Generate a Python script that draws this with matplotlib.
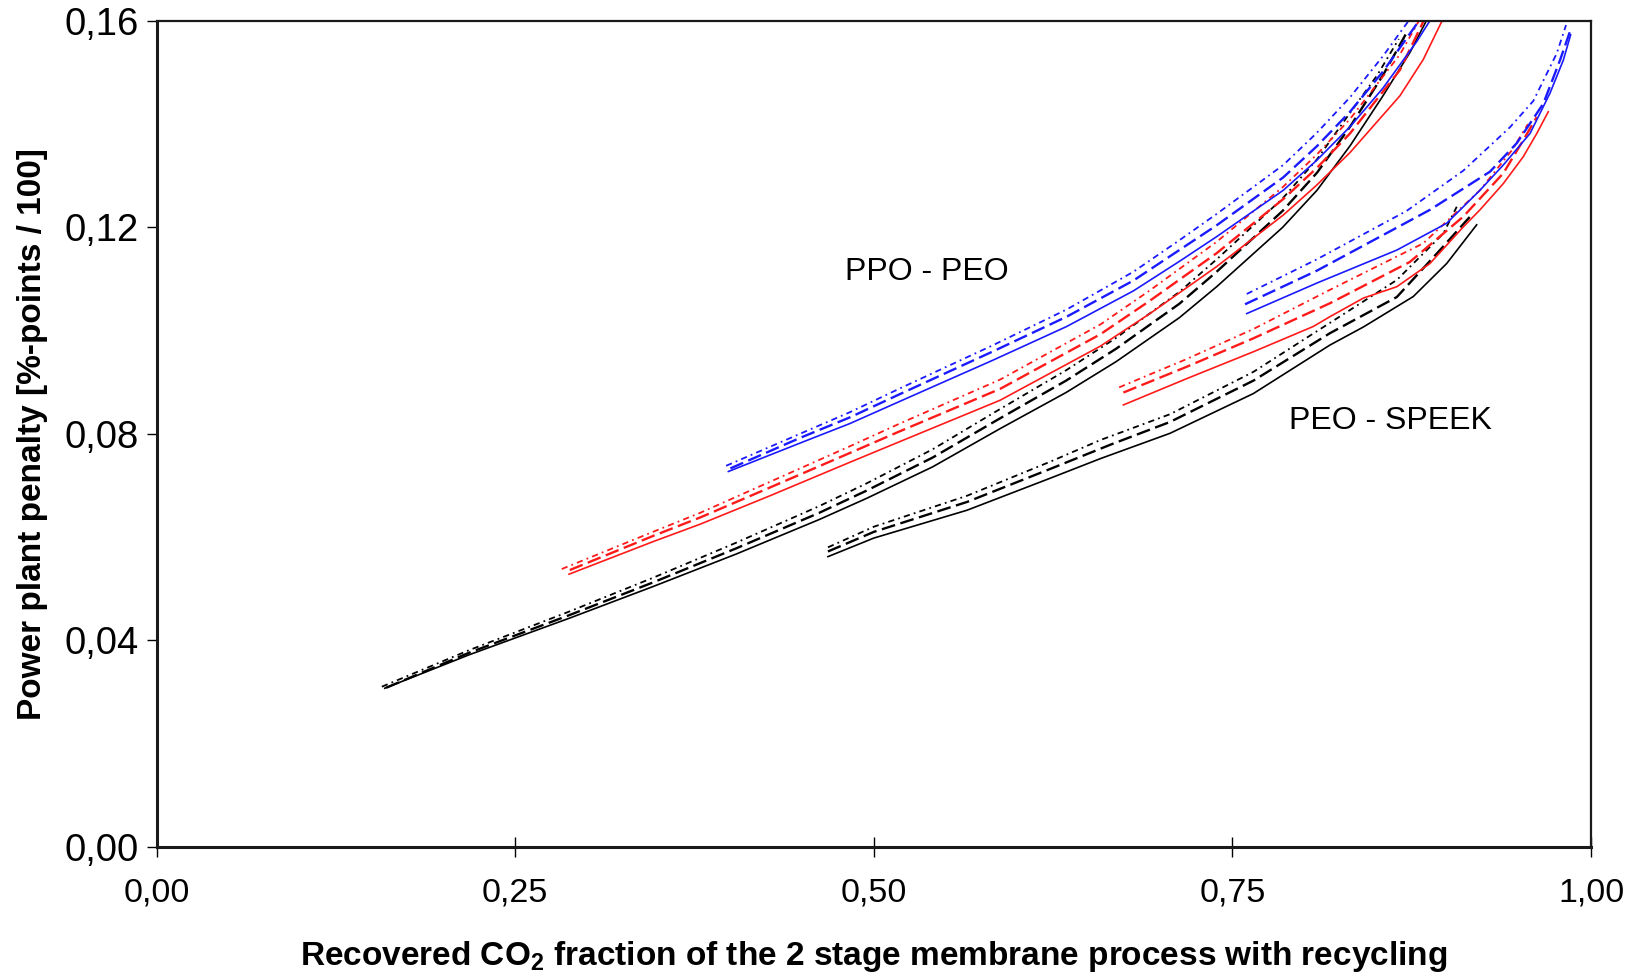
import matplotlib
matplotlib.use("Agg")
import matplotlib.pyplot as plt
from matplotlib import font_manager

# ---------------- data ----------------
x_ticks = [0.0, 0.25, 0.5, 0.75, 1.0]
x_tick_labels = ["0,00", "0,25", "0,50", "0,75", "1,00"]
y_ticks = [0.0, 0.04, 0.08, 0.12, 0.16]
y_tick_labels = ["0,00", "0,04", "0,08", "0,12", "0,16"]

x_label = "Recovered CO$_2$ fraction of the 2 stage membrane process with recycling"
y_label = "Power plant penalty [%-points / 100]"
label_ppo = "PPO - PEO"
label_speek = "PEO - SPEEK"

# PPO - PEO family
ppo_k_solid_x = [0.159, 0.218, 0.288, 0.346, 0.404, 0.462, 0.495, 0.541, 0.588, 0.634, 0.669, 0.713, 0.739, 0.785, 0.809, 0.832, 0.855, 0.874, 0.887]
ppo_k_solid_y = [0.0307, 0.0372, 0.0443, 0.0504, 0.0567, 0.0634, 0.0675, 0.0736, 0.0810, 0.0880, 0.0940, 0.1025, 0.1085, 0.1200, 0.1272, 0.1358, 0.1455, 0.1540, 0.1610]
ppo_k_dash_x = [0.160, 0.218, 0.288, 0.346, 0.404, 0.462, 0.495, 0.541, 0.588, 0.634, 0.669, 0.713, 0.739, 0.785, 0.809, 0.832, 0.855, 0.872]
ppo_k_dash_y = [0.0308, 0.0376, 0.0449, 0.0512, 0.0578, 0.0647, 0.0690, 0.0754, 0.0830, 0.0903, 0.0965, 0.1052, 0.1114, 0.1232, 0.1306, 0.1395, 0.1495, 0.1580]
ppo_k_dd_x = [0.157, 0.218, 0.288, 0.346, 0.404, 0.462, 0.495, 0.541, 0.588, 0.634, 0.669, 0.713, 0.739, 0.785, 0.809, 0.832, 0.851, 0.866]
ppo_k_dd_y = [0.0310, 0.0381, 0.0456, 0.0521, 0.0589, 0.0660, 0.0704, 0.0770, 0.0848, 0.0923, 0.0986, 0.1075, 0.1138, 0.1256, 0.1332, 0.1422, 0.1495, 0.1565]

ppo_r_solid_x = [0.2875, 0.346, 0.379, 0.4276, 0.4834, 0.5182, 0.588, 0.658, 0.6925, 0.739, 0.7855, 0.8088, 0.832, 0.8668, 0.883, 0.897]
ppo_r_solid_y = [0.0528, 0.0591, 0.0625, 0.0680, 0.0745, 0.0785, 0.0865, 0.0970, 0.1033, 0.1124, 0.1224, 0.1282, 0.1345, 0.1455, 0.1525, 0.1605]
ppo_r_dash_x = [0.288, 0.346, 0.379, 0.4276, 0.4834, 0.5182, 0.588, 0.658, 0.6925, 0.739, 0.7855, 0.8088, 0.832, 0.8668, 0.885]
ppo_r_dash_y = [0.0536, 0.0602, 0.0638, 0.0696, 0.0763, 0.0805, 0.0887, 0.0993, 0.1058, 0.1150, 0.1255, 0.1315, 0.1382, 0.1505, 0.1610]
ppo_r_dd_x = [0.2824, 0.346, 0.379, 0.4276, 0.4834, 0.5182, 0.588, 0.658, 0.6925, 0.739, 0.7855, 0.8088, 0.832, 0.8668, 0.882]
ppo_r_dd_y = [0.0538, 0.0610, 0.0647, 0.0707, 0.0776, 0.0820, 0.0905, 0.1012, 0.1078, 0.1172, 0.1279, 0.1341, 0.1410, 0.1535, 0.1610]

ppo_b_solid_x = [0.3986, 0.4485, 0.4834, 0.5182, 0.5833, 0.6345, 0.681, 0.7135, 0.739, 0.7855, 0.8088, 0.832, 0.855, 0.8785, 0.891]
ppo_b_solid_y = [0.0727, 0.0782, 0.0820, 0.0863, 0.0943, 0.1008, 0.1077, 0.1135, 0.1182, 0.1272, 0.1330, 0.1395, 0.1470, 0.1560, 0.1615]
ppo_b_dash_x = [0.400, 0.4485, 0.4834, 0.5182, 0.5833, 0.6345, 0.681, 0.7135, 0.739, 0.7855, 0.8088, 0.832, 0.855, 0.8785, 0.889]
ppo_b_dash_y = [0.0733, 0.0792, 0.0832, 0.0877, 0.0960, 0.1027, 0.1097, 0.1157, 0.1204, 0.1297, 0.1357, 0.1424, 0.1502, 0.1594, 0.1640]
ppo_b_dd_x = [0.397, 0.4485, 0.4834, 0.5182, 0.5833, 0.6345, 0.681, 0.7135, 0.739, 0.7855, 0.8088, 0.832, 0.855, 0.878]
ppo_b_dd_y = [0.0738, 0.0800, 0.0842, 0.0888, 0.0972, 0.1041, 0.1114, 0.1176, 0.1226, 0.1321, 0.1383, 0.1452, 0.1532, 0.1620]

# PEO - SPEEK family
sp_k_solid_x = [0.468, 0.500, 0.565, 0.623, 0.658, 0.7065, 0.7646, 0.818, 0.8413, 0.8761, 0.8994, 0.9203]
sp_k_solid_y = [0.0562, 0.0598, 0.0652, 0.0714, 0.0752, 0.0801, 0.0878, 0.0972, 0.1007, 0.1066, 0.1130, 0.1205]
sp_k_dash_x = [0.468, 0.500, 0.565, 0.623, 0.665, 0.7065, 0.7646, 0.818, 0.8646, 0.8947, 0.9157]
sp_k_dash_y = [0.0572, 0.0610, 0.0668, 0.0732, 0.0779, 0.0823, 0.0903, 0.0995, 0.1065, 0.1156, 0.1221]
sp_k_dd_x = [0.468, 0.500, 0.565, 0.623, 0.658, 0.7065, 0.7646, 0.818, 0.8646, 0.897, 0.9064]
sp_k_dd_y = [0.0580, 0.0620, 0.0680, 0.0746, 0.0788, 0.0838, 0.0920, 0.1015, 0.1098, 0.1188, 0.1240]

sp_r_solid_x = [0.674, 0.7182, 0.7646, 0.8064, 0.818, 0.8413, 0.8646, 0.8877, 0.911, 0.9226, 0.9389, 0.9528, 0.9622, 0.9702]
sp_r_solid_y = [0.0856, 0.0907, 0.0959, 0.1008, 0.1027, 0.1063, 0.1085, 0.1130, 0.1201, 0.1234, 0.1285, 0.1337, 0.1382, 0.1424]
sp_r_dash_x = [0.674, 0.7182, 0.7646, 0.818, 0.8737, 0.911, 0.9389, 0.9528, 0.9622]
sp_r_dash_y = [0.0880, 0.0930, 0.0985, 0.1053, 0.1133, 0.1221, 0.1305, 0.1369, 0.1414]
sp_r_dd_x = [0.671, 0.7182, 0.7646, 0.818, 0.883, 0.9226, 0.945, 0.956]
sp_r_dd_y = [0.0890, 0.0945, 0.1003, 0.1079, 0.1169, 0.1272, 0.1350, 0.1400]

sp_b_solid_x = [0.760, 0.8088, 0.8646, 0.8994, 0.9226, 0.9389, 0.9575, 0.9714, 0.9807, 0.9858]
sp_b_solid_y = [0.1033, 0.1092, 0.1156, 0.1208, 0.1272, 0.1321, 0.1382, 0.1460, 0.1524, 0.1573]
sp_b_dash_x = [0.7588, 0.8088, 0.8877, 0.9296, 0.9482, 0.9668, 0.9784, 0.9854]
sp_b_dash_y = [0.1051, 0.1116, 0.1234, 0.1308, 0.1363, 0.1440, 0.1524, 0.1580]
sp_b_dd_x = [0.760, 0.8088, 0.8715, 0.911, 0.9435, 0.9598, 0.9761, 0.9826]
sp_b_dd_y = [0.1071, 0.1138, 0.1232, 0.1310, 0.1394, 0.1445, 0.1537, 0.1592]

# ---------------- fonts ----------------
names = {f.name for f in font_manager.fontManager.ttflist}
regular_font = "Liberation Sans" if "Liberation Sans" in names else "DejaVu Sans"
if "Liberation Sans Narrow" in names:
    narrow_font = "Liberation Sans Narrow"
    narrow_size = 28
else:
    narrow_font = regular_font
    narrow_size = 24

plt.rcParams["font.family"] = [regular_font, "DejaVu Sans"]
plt.rcParams["mathtext.fontset"] = "custom"
plt.rcParams["mathtext.rm"] = narrow_font + ":bold"
plt.rcParams["mathtext.default"] = "rm"
plt.rcParams["lines.scale_dashes"] = False

BLUE = "#1a1aff"
RED = "#ff1a1a"
BLACK = "#000000"

fig = plt.figure(figsize=(16.37, 9.74), dpi=100)
ax = fig.add_axes([0.0957, 0.1307, 0.8762, 0.8478])

dash_long = (10, 4)
dash_dot = (4.5, 3, 1.3, 3)

series = [
    (ppo_k_solid_x, ppo_k_solid_y, BLACK, None, 1.2),
    (ppo_k_dash_x, ppo_k_dash_y, BLACK, dash_long, 1.7),
    (ppo_k_dd_x, ppo_k_dd_y, BLACK, dash_dot, 1.3),
    (ppo_r_solid_x, ppo_r_solid_y, RED, None, 1.2),
    (ppo_r_dash_x, ppo_r_dash_y, RED, dash_long, 1.7),
    (ppo_r_dd_x, ppo_r_dd_y, RED, dash_dot, 1.3),
    (ppo_b_solid_x, ppo_b_solid_y, BLUE, None, 1.2),
    (ppo_b_dash_x, ppo_b_dash_y, BLUE, dash_long, 1.7),
    (ppo_b_dd_x, ppo_b_dd_y, BLUE, dash_dot, 1.3),
    (sp_k_solid_x, sp_k_solid_y, BLACK, None, 1.2),
    (sp_k_dash_x, sp_k_dash_y, BLACK, dash_long, 1.7),
    (sp_k_dd_x, sp_k_dd_y, BLACK, dash_dot, 1.3),
    (sp_r_solid_x, sp_r_solid_y, RED, None, 1.2),
    (sp_r_dash_x, sp_r_dash_y, RED, dash_long, 1.7),
    (sp_r_dd_x, sp_r_dd_y, RED, dash_dot, 1.3),
    (sp_b_solid_x, sp_b_solid_y, BLUE, None, 1.2),
    (sp_b_dash_x, sp_b_dash_y, BLUE, dash_long, 1.7),
    (sp_b_dd_x, sp_b_dd_y, BLUE, dash_dot, 1.3),
]
for xs, ys, col, dashes, lw in series:
    line, = ax.plot(xs, ys, color=col, lw=lw, solid_joinstyle="round")
    if dashes is not None:
        line.set_dashes(dashes)

ax.set_xlim(0, 1)
ax.set_ylim(0, 0.16)
ax.set_xticks(x_ticks)
ax.set_xticklabels(x_tick_labels)
ax.set_yticks(y_ticks)
ax.set_yticklabels(y_tick_labels)
ax.tick_params(axis="x", direction="inout", length=14, width=1.0, pad=15,
               labelsize=24.5, colors="#000000")
ax.tick_params(axis="y", direction="out", length=7, width=1.0, pad=6,
               labelsize=27.5, colors="#000000")

for side in ["left", "bottom"]:
    ax.spines[side].set_linewidth(2.2)
    ax.spines[side].set_color("#1a1a1a")
for side in ["top", "right"]:
    ax.spines[side].set_linewidth(1.6)
    ax.spines[side].set_color("#1a1a1a")

ax.set_xlabel(x_label, fontsize=narrow_size, fontweight="bold", family=narrow_font, labelpad=22)
ax.set_ylabel(y_label, fontsize=narrow_size, fontweight="bold", family=narrow_font, labelpad=12)

ax.text(0.537, 0.1114, label_ppo, fontsize=23, ha="center", va="center")
ax.text(0.860, 0.0825, label_speek, fontsize=23, ha="center", va="center")

fig.savefig("out.png", dpi=100)
